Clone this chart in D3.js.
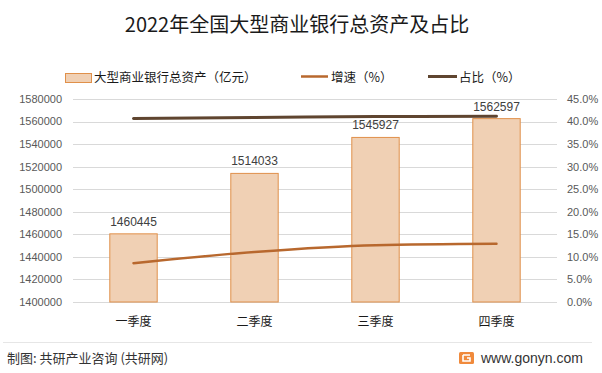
<!DOCTYPE html>
<html>
<head>
<meta charset="utf-8">
<script src="https://cdn.jsdelivr.net/npm/d3@7"></script>
<style>
  body { margin: 0; background: #fff; }
  svg { display: block; font-family: "Noto Sans CJK SC", "Noto Sans", sans-serif; }
</style>
</head>
<body>
<svg id="chart" width="602" height="373"></svg>
<script>
// data
var quarters = ['一季度', '二季度', '三季度', '四季度'];
var assets = [1460445, 1514033, 1545927, 1562597];   // 亿元
var growth = [8.6, 11.1, 12.6, 12.9];                 // %
var share = [40.7, 40.9, 41.1, 41.2];                 // %
var leftTicks = d3.range(1400000, 1580001, 20000);
var rightTicks = d3.range(0, 45.01, 5);

var svg = d3.select('#chart');
var margin = {left: 73, right: 45, top: 99, bottom: 71};
var width = 602 - margin.left - margin.right;
var height = 373 - margin.top - margin.bottom;

var x = d3.scaleBand().domain(quarters).range([margin.left, margin.left + width]).paddingInner(0.6).paddingOuter(0.3);
var xc = function(d) { return x(d) + x.bandwidth() / 2; };
var y = d3.scaleLinear().domain([1400000, 1580000]).range([margin.top + height, margin.top]);
var y2 = d3.scaleLinear().domain([0, 45]).range([margin.top + height, margin.top]);

// title
svg.append('text')
  .attr('x', 297).attr('y', 32)
  .attr('text-anchor', 'middle')
  .attr('font-size', 20)
  .attr('fill', '#1a1a1a')
  .text('2022年全国大型商业银行总资产及占比');

// grid
svg.append('g').selectAll('line')
  .data(leftTicks)
  .join('line')
  .attr('x1', margin.left).attr('x2', margin.left + width)
  .attr('y1', function(d) { return Math.round(y(d)) + 0.5; })
  .attr('y2', function(d) { return Math.round(y(d)) + 0.5; })
  .attr('stroke', '#d9d9d9');

// left axis labels
svg.append('g').selectAll('text')
  .data(leftTicks)
  .join('text')
  .attr('x', 62).attr('y', function(d) { return y(d); })
  .attr('dy', '0.35em')
  .attr('text-anchor', 'end')
  .attr('font-size', 11)
  .attr('fill', '#595959')
  .attr('font-family', 'Liberation Sans, Arial, sans-serif')
  .text(function(d) { return d; });

// right axis labels
svg.append('g').selectAll('text')
  .data(rightTicks)
  .join('text')
  .attr('x', 567).attr('y', function(d) { return y2(d); })
  .attr('dy', '0.35em')
  .attr('font-size', 11)
  .attr('fill', '#595959')
  .attr('font-family', 'Liberation Sans, Arial, sans-serif')
  .text(function(d) { return d.toFixed(1) + '%'; });

// bars
svg.append('g').selectAll('rect')
  .data(assets)
  .join('rect')
  .attr('x', function(d, i) { return x(quarters[i]) + 0.5; })
  .attr('y', function(d) { return y(d); })
  .attr('width', x.bandwidth() - 1)
  .attr('height', function(d) { return y(1400000) - y(d); })
  .attr('fill', '#f0d0b4')
  .attr('stroke', '#e0904a')
  .attr('stroke-width', 1);

// bar value labels
svg.append('g').selectAll('text')
  .data(assets)
  .join('text')
  .attr('x', function(d, i) { return xc(quarters[i]); })
  .attr('y', function(d) { return y(d) - 8; })
  .attr('text-anchor', 'middle')
  .attr('font-size', 12)
  .attr('fill', '#404040')
  .attr('font-family', 'Liberation Sans, Arial, sans-serif')
  .text(function(d) { return d; });

// lines
var line = d3.line()
  .x(function(d, i) { return xc(quarters[i]); })
  .y(function(d) { return y2(d); })
  .curve(d3.curveMonotoneX);

svg.append('path')
  .datum(growth)
  .attr('d', line)
  .attr('fill', 'none')
  .attr('stroke', '#b8682e')
  .attr('stroke-width', 2.5)
  .attr('stroke-linecap', 'round');

svg.append('path')
  .datum(share)
  .attr('d', line)
  .attr('fill', 'none')
  .attr('stroke', '#5f4530')
  .attr('stroke-width', 3)
  .attr('stroke-linecap', 'round');

// category labels
svg.append('g').selectAll('text')
  .data(quarters)
  .join('text')
  .attr('x', xc).attr('y', 322)
  .attr('dy', '0.35em')
  .attr('text-anchor', 'middle')
  .attr('font-size', 12)
  .attr('fill', '#1a1a1a')
  .text(function(d) { return d; });

// legend
var legend = svg.append('g').attr('font-size', 12.5).attr('fill', '#1a1a1a');
legend.append('rect').attr('x', 65.5).attr('y', 73.5).attr('width', 26).attr('height', 9)
  .attr('fill', '#f0d0b4').attr('stroke', '#e0904a');
legend.append('text').attr('x', 94).attr('y', 78).attr('dy', '0.35em').text('大型商业银行总资产（亿元）');
legend.append('line').attr('x1', 301).attr('x2', 328).attr('y1', 76.5).attr('y2', 76.5)
  .attr('stroke', '#b8682e').attr('stroke-width', 2.5);
legend.append('text').attr('x', 331).attr('y', 78).attr('dy', '0.35em').text('增速（%）');
legend.append('line').attr('x1', 428).attr('x2', 457).attr('y1', 76.5).attr('y2', 76.5)
  .attr('stroke', '#5f4530').attr('stroke-width', 3);
legend.append('text').attr('x', 459).attr('y', 78).attr('dy', '0.35em').text('占比（%）');

// footer
svg.append('line').attr('x1', 3).attr('x2', 592).attr('y1', 342.5).attr('y2', 342.5)
  .attr('stroke', '#e6e6e6');
svg.append('text').attr('x', 7).attr('y', 358).attr('dy', '0.35em')
  .attr('font-size', 13).attr('fill', '#333')
  .text('制图: 共研产业咨询 (共研网)');
var logo = svg.append('g').attr('transform', 'translate(459,352)');
logo.append('rect').attr('width', 15).attr('height', 12).attr('rx', 1.5).attr('fill', '#f08a3c');
logo.append('path').attr('d', 'M4,3H11M4,3V9H11V6H8').attr('fill', 'none').attr('stroke', '#fff').attr('stroke-width', 1.6);
svg.append('text').attr('x', 481).attr('y', 358).attr('dy', '0.35em')
  .attr('font-size', 14).attr('fill', '#333')
  .attr('font-family', 'Liberation Sans, Arial, sans-serif')
  .text('www.gonyn.com');
</script>
</body>
</html>
